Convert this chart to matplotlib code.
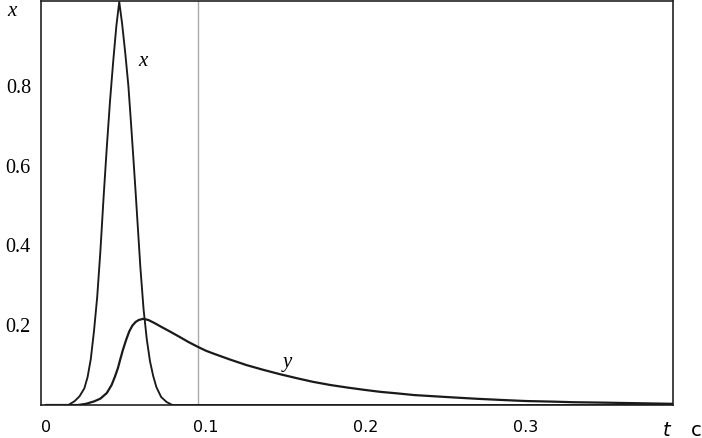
import matplotlib
matplotlib.use("Agg")
import matplotlib.pyplot as plt

# x(t) pulse
t_x = [0.0, 0.014, 0.018, 0.021, 0.024, 0.026, 0.028, 0.030, 0.032, 0.034, 0.036,
       0.038, 0.040, 0.042, 0.044, 0.0458, 0.0476, 0.0496, 0.0515, 0.053, 0.0546,
       0.056, 0.0575, 0.059, 0.061, 0.063, 0.065, 0.067, 0.069, 0.072, 0.0754,
       0.079, 0.39]
x_vals = [0.0, 0.0, 0.01, 0.022, 0.042, 0.07, 0.115, 0.185, 0.27, 0.385, 0.52,
          0.645, 0.76, 0.86, 0.95, 1.01, 0.955, 0.88, 0.80, 0.715, 0.62,
          0.535, 0.44, 0.345, 0.24, 0.165, 0.11, 0.073, 0.045, 0.02, 0.0075,
          0.0, 0.0]

# y(t) response
t_y = [0.0, 0.02, 0.025, 0.030, 0.034, 0.038, 0.041, 0.0431, 0.045, 0.0463, 0.048,
       0.050, 0.052, 0.054, 0.056, 0.058, 0.0608, 0.064, 0.068, 0.072, 0.078,
       0.0838, 0.089, 0.0948, 0.1, 0.1046, 0.115, 0.1254, 0.136, 0.146, 0.157,
       0.167, 0.178, 0.188, 0.199, 0.209, 0.22, 0.23, 0.2546, 0.27, 0.2858, 0.30,
       0.317, 0.33, 0.348, 0.37, 0.392]
y_vals = [0.0, 0.0, 0.003, 0.009, 0.016, 0.03, 0.05, 0.071, 0.093, 0.1125, 0.137,
          0.162, 0.184, 0.199, 0.208, 0.213, 0.216, 0.213, 0.205, 0.196, 0.183,
          0.17, 0.158, 0.146, 0.136, 0.129, 0.114, 0.1, 0.088, 0.0775, 0.067,
          0.058, 0.05, 0.044, 0.038, 0.033, 0.029, 0.025, 0.019, 0.0155, 0.0125, 0.010,
          0.0085, 0.007, 0.006, 0.0045, 0.003]

x_ticks = [0, 0.1, 0.2, 0.3]
x_ticklabels = ["0", "0.1", "0.2", "0.3"]
y_ticks = [0.2, 0.4, 0.6, 0.8]
y_ticklabels = ["0.2", "0.4", "0.6", "0.8"]
marker_t = 0.0948

fig = plt.figure(figsize=(7.02, 4.38), dpi=100)
ax = fig.add_axes([0.058, 0.0753, 0.9007, 0.9227])

ax.axvline(marker_t, color="#aaaaaa", lw=1.0, zorder=1)
ax.plot(t_x, x_vals, color="#1a1a1a", lw=1.35, zorder=3, solid_joinstyle="round")
ax.plot(t_y, y_vals, color="#1a1a1a", lw=1.6, zorder=3, solid_joinstyle="round")

ax.set_xlim(-0.0033, 0.392)
ax.set_ylim(0, 1.0125)

ax.set_xticks(x_ticks)
ax.set_xticklabels(x_ticklabels, fontfamily="DejaVu Sans", fontsize=11.5)
ax.set_yticks(y_ticks)
ax.set_yticklabels(y_ticklabels, fontfamily="Liberation Serif", fontsize=14.5)
ax.tick_params(axis="x", length=0, pad=11)
ax.tick_params(axis="y", length=0, pad=7)

for sp in ax.spines.values():
    sp.set_linewidth(1.2)
    sp.set_color("#222222")

# curve labels
ax.text(0.0605, 0.86, "x", fontfamily="Liberation Serif", style="italic",
        fontsize=15, ha="center", va="center")
ax.text(0.151, 0.107, "y", fontfamily="Liberation Serif", style="italic",
        fontsize=15, ha="center", va="center")

# axis labels
fig.text(12 / 702, 1 - 12 / 438, "x", fontfamily="Liberation Serif", style="italic",
         fontsize=15, ha="center", va="center")
fig.text(667 / 702, 1 - 430 / 438, "t", fontfamily="DejaVu Sans", style="italic",
         fontsize=14, ha="center", va="center")
fig.text(696 / 702, 1 - 430 / 438, "с", fontfamily="DejaVu Sans",
         fontsize=14, ha="center", va="center")

fig.savefig("out.png", dpi=100)
